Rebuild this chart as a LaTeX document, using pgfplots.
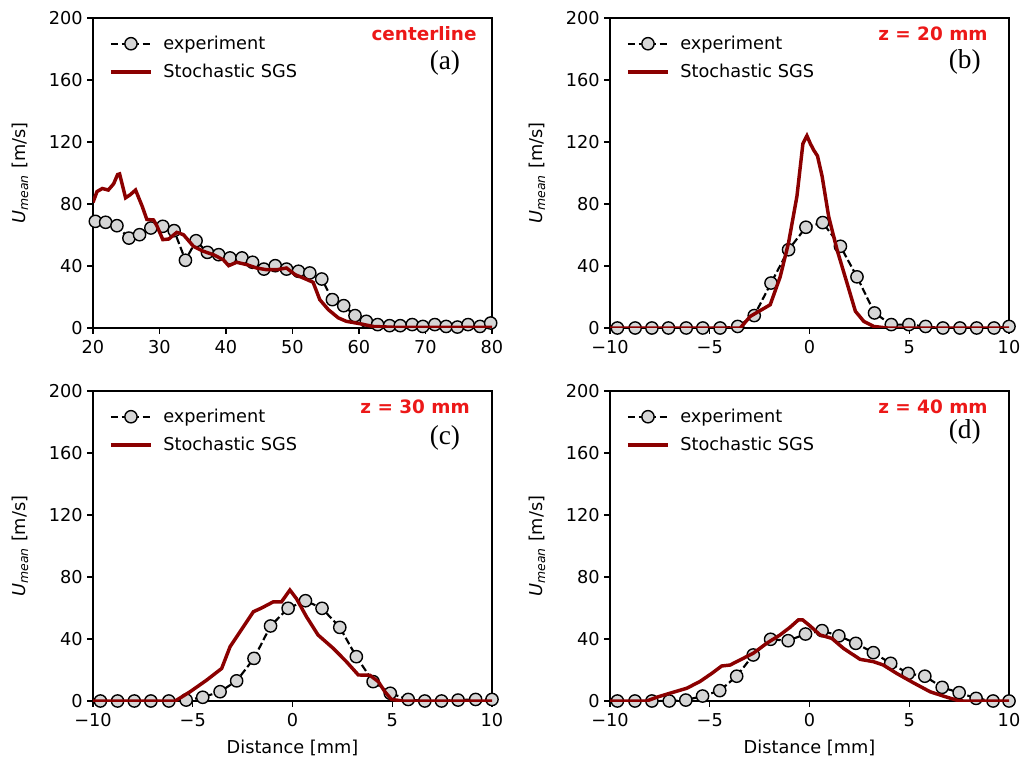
\documentclass[border=0pt]{standalone}
\usepackage{pgfplots}
\pgfplotsset{compat=1.18}
\usepackage{fontspec}
\setmainfont{DejaVu Sans}
\newfontfamily\timesfont{Liberation Serif}
\newcommand\tfont{\fontsize{13.3}{15}\selectfont}
\definecolor{simred}{RGB}{139,0,0}
\definecolor{labred}{RGB}{236,24,24}
\definecolor{mfill}{RGB}{214,214,214}
\tikzset{
  tag/.style={anchor=east, inner sep=0pt, font=\bfseries\fontsize{13.8}{15}\selectfont, color=labred},
  plab/.style={font=\timesfont\fontsize{20.5}{24}\selectfont},
}
\pgfplotsset{
  panel/.style={
    scale only axis, width=299.25pt, height=232.5pt,
    ymin=0, ymax=200, ytick={0,40,80,120,160,200},
    axis line style={line width=0.95pt},
    tick style={line width=0.95pt, black},
    tick align=outside, major tick length=4.2pt,
    xtick pos=bottom, ytick pos=left,
    ylabel={\textit{U}\textsubscript{\textit{mean}} [m/s]},
    ylabel style={at={(axis description cs:-0.183,0.5)}, anchor=center, font=\tfont},
    xlabel style={at={(axis description cs:0.5,-0.152)}, anchor=center, font=\tfont},
    every tick label/.append style={font=\tfont},
    xticklabel style={yshift=-1.5pt},
    /pgf/number format/assume math mode=true,
    clip mode=individual,
    legend cell align=left,
    legend style={draw=none, fill=none, font=\tfont, at={(axis description cs:0.03,0.96)}, anchor=north west, row sep=5.5pt},
    legend image code/.code={\draw[mark repeat=2,mark phase=2,##1] plot coordinates {(0pt,0pt) (15pt,0pt) (30pt,0pt)}; \path (36pt,0pt);},
  },
  bpanel/.style={panel, xmin=-10, xmax=10, xtick={-10,-5,0,5,10}, xticklabels={−10,−5,0,5,10}},
  exp/.style={black, line width=1.6pt, dash pattern=on 5.5pt off 2.4pt, mark=*, mark size=4.6pt,
    mark options={solid, fill=mfill, draw=black, line width=1.05pt}},
  sim/.style={color=simred, line width=2.6pt, no marks},
}
\begin{document}
\begin{tikzpicture}
\useasboundingbox (0,0) rectangle (765.75pt,573pt);
% ---------------- (a)
\begin{axis}[panel, at={(69.75pt,327pt)}, anchor=south west,
  xmin=20, xmax=80, xtick={20,30,40,50,60,70,80}]
\addplot[exp] coordinates {
(20.35,68.8) (21.9,68.2) (23.6,66) (25.4,58) (27,60.2) (28.7,64.5) (30.5,65.6) (32.2,62.8)
(33.9,43.7) (35.5,56.3) (37.2,48.8) (38.9,47.3) (40.6,45.2) (42.4,45.2) (44,42.4) (45.7,38)
(47.4,40.2) (49.1,38) (50.9,36.6) (52.6,35.5) (54.4,31.6) (56,18.3) (57.7,14.4) (59.4,8)
(61.1,4.3) (62.8,2.2) (64.6,1.5) (66.2,1.5) (68,2.2) (69.6,1) (71.4,2.2) (73.1,1)
(74.8,0.6) (76.4,2.2) (78.2,1) (79.8,3.2)};
\addlegendentry{experiment}
\addplot[sim] coordinates {
(20,81) (20.6,88) (21.4,90) (22.3,89) (23.1,93) (23.7,99) (24,99.4) (24.9,84) (25.6,86)
(26.4,89) (27.4,78.5) (28.1,70) (29.1,69.7) (29.6,66) (30.5,57) (31.4,57.4) (32.6,61.7)
(33.6,60.2) (35.1,52.7) (36.6,49.5) (38.1,47.3) (39.6,44) (40.4,40.2) (41.6,42.4)
(43.1,40.9) (44.6,38.7) (46.1,37.6) (47.6,37.6) (49.1,38.7) (50.4,34.4) (51.6,32.3)
(53.1,29.5) (54.1,18.3) (55.4,11.8) (56.9,6.5) (58.1,4.3) (60.1,2.8) (62.1,1) (65.6,0.4) (80,0.4)};
\addlegendentry{Stochastic SGS}
\node[tag] at (rel axis cs:0.962,0.948) {centerline};
\node[plab] at (rel axis cs:0.882,0.855) {(a)};
\end{axis}
% ---------------- (b)
\begin{axis}[bpanel, at={(457.5pt,327pt)}, anchor=south west]
\addplot[exp] coordinates {
(-9.63,0) (-8.74,0) (-7.9,0) (-7.07,0) (-6.18,0) (-5.35,0) (-4.48,0) (-3.6,1) (-2.77,8)
(-1.93,29) (-1.05,50.5) (-0.18,65) (0.66,68) (1.55,52.7) (2.38,33) (3.26,9.7) (4.1,2.2)
(4.98,2.2) (5.82,1) (6.69,0) (7.54,0) (8.38,0) (9.25,0) (10,1)};
\addlegendentry{experiment}
\addplot[sim] coordinates {
(-10,0) (-3.47,0) (-2.97,7.5) (-1.97,15) (-1.47,33) (-1.05,55) (-0.63,85) (-0.33,119)
(-0.13,124) (0.04,119) (0.2,115) (0.4,111) (0.63,98) (0.96,72) (1.38,50.5) (1.88,29)
(2.3,10.8) (2.72,4.3) (3.22,1) (3.9,0) (10,0)};
\addlegendentry{Stochastic SGS}
\node[tag] at (rel axis cs:0.947,0.948) {z = 20 mm};
\node[plab] at (rel axis cs:0.889,0.858) {(b)};
\end{axis}
% ---------------- (c)
\begin{axis}[bpanel, at={(69.75pt,47.25pt)}, anchor=south west, xlabel={Distance [mm]}]
\addplot[exp] coordinates {
(-9.63,0) (-8.77,0) (-7.93,0) (-7.1,0) (-6.2,0) (-5.33,0.6) (-4.5,2.4) (-3.63,6) (-2.8,13)
(-1.93,27.5) (-1.1,48.4) (-0.22,59.8) (0.65,64.7) (1.48,59.8) (2.37,47.5) (3.2,28.6)
(4.04,12.5) (4.9,5) (5.8,1) (6.63,0) (7.47,0) (8.3,0.6) (9.18,1) (10,1)};
\addlegendentry{experiment}
\addplot[sim] coordinates {
(-10,0) (-5.88,0) (-5.13,6) (-4.3,13.5) (-3.55,21) (-3.13,35) (-2.63,44.7) (-1.96,57.6)
(-1.55,60) (-0.96,64) (-0.55,64) (-0.13,71.6) (0.2,66) (0.7,54.4) (1.28,42.6) (2.04,34)
(2.7,25.4) (3.3,16.8) (3.88,16.6) (4.3,12.5) (4.63,6) (4.96,1) (5.55,0) (10,0)};
\addlegendentry{Stochastic SGS}
\node[tag] at (rel axis cs:0.945,0.948) {z = 30 mm};
\node[plab] at (rel axis cs:0.882,0.848) {(c)};
\end{axis}
% ---------------- (d)
\begin{axis}[bpanel, at={(457.5pt,47.25pt)}, anchor=south west, xlabel={Distance [mm]}]
\addplot[exp] coordinates {
(-9.63,0) (-8.75,0) (-7.9,0) (-7.03,0) (-6.2,0.6) (-5.36,3.2) (-4.5,6.7) (-3.65,16)
(-2.82,29.7) (-1.95,39.8) (-1.07,38.9) (-0.2,43.2) (0.63,45.4) (1.47,42) (2.32,37.2)
(3.2,31.2) (4.07,24.3) (4.95,17.8) (5.78,16) (6.65,8.8) (7.5,5.4) (8.35,1.7) (9.2,0) (10,0)};
\addlegendentry{experiment}
\addplot[sim] coordinates {
(-10,0) (-8.16,0) (-7.66,2.4) (-7,5) (-6.16,8.2) (-5.5,12.5) (-4.9,17.8) (-4.4,22.6)
(-3.98,23.2) (-3.48,26.5) (-2.82,30.8) (-2.15,37.2) (-1.48,42.6) (-0.98,47.5) (-0.56,52.3)
(-0.34,52.3) (0.03,48.4) (0.53,42.6) (1.12,40.4) (1.7,34) (2.53,26.9) (3.2,25.4) (3.7,23.2)
(4.37,17.8) (5.2,11.8) (6.04,6) (6.7,3.2) (7.46,0.2) (7.71,0) (10,0)};
\addlegendentry{Stochastic SGS}
\node[tag] at (rel axis cs:0.947,0.948) {z = 40 mm};
\node[plab] at (rel axis cs:0.889,0.868) {(d)};
\end{axis}
\end{tikzpicture}
\end{document}
